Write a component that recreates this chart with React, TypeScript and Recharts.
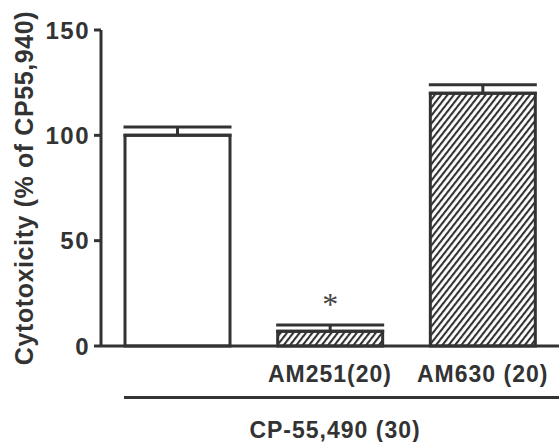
import { Bar, BarChart, Cell, ErrorBar, LabelList, XAxis, YAxis } from "recharts";

const categories = ["CP-55,940", "AM251(20)", "AM630 (20)"];
const tickLabels = ["", "AM251(20)", "AM630 (20)"];
const values = [100, 7, 120];
const errors = [4, 3, 4];
const marks = ["", "*", ""];
const yTicks = [0, 50, 100, 150];
const groupLabel = "CP-55,490 (30)";

const ink = "#333";
const font = "'Liberation Sans', Arial, sans-serif";

const data = categories.map((name, i) => ({
  name,
  value: values[i],
  err: [0, errors[i]],
  mark: marks[i],
}));

const fills = ["#fff", "url(#hatch)", "url(#hatch)"];

export default function App() {
  return (
    <div style={{ position: "relative", width: 559, height: 442, background: "#fff" }}>
      <style>{`body{margin:0}`}</style>
      <BarChart width={559} height={442} data={data} margin={{ top: 30, right: 0, bottom: 0, left: 0 }}>
        <defs>
          <pattern id="hatch" patternUnits="userSpaceOnUse" width={5} height={10} patternTransform="rotate(38)">
            <rect width={5} height={10} fill="#fff" />
            <line x1={1} y1={0} x2={1} y2={10} stroke={ink} strokeWidth={2.2} />
          </pattern>
        </defs>
        <XAxis
          dataKey="name"
          height={96}
          tickLine={false}
          axisLine={{ stroke: ink, strokeWidth: 3 }}
          tick={{ fill: ink, fontSize: 23, fontWeight: 700, fontFamily: font, letterSpacing: 1, style: { fontSize: 23, letterSpacing: 1 } }}
          tickFormatter={(_v, i) => tickLabels[i]}
          tickMargin={14}
          label={{ value: groupLabel, position: "insideBottom", offset: 4, dx: 5, fill: ink, fontWeight: 700, fontFamily: font, style: { fontSize: 23, letterSpacing: 1, fontWeight: 700, fontFamily: font } }}
        />
        <YAxis
          width={101}
          domain={[0, 150]}
          ticks={yTicks}
          interval={0}
          tickSize={7}
          tickLine={{ stroke: ink, strokeWidth: 3 }}
          axisLine={{ stroke: ink, strokeWidth: 3 }}
          tick={{ fill: ink, fontSize: 24, fontWeight: 700, fontFamily: font, style: { fontSize: 24, letterSpacing: 1.5 } }}
          tickMargin={4}
          label={{ value: "Cytotoxicity (% of CP55,940)", angle: -90, position: "insideLeft", offset: 24, fill: ink, style: { textAnchor: "middle", fontSize: 25, letterSpacing: 0.6, fontWeight: 700, fontFamily: font } }}
        />
        <Bar dataKey="value" barSize={105} stroke={ink} strokeWidth={3} isAnimationActive={false}>
          {data.map((d, i) => (
            <Cell key={d.name} fill={fills[i]} />
          ))}
          <ErrorBar dataKey="err" width={54} stroke={ink} strokeWidth={3} direction="y" />
          <LabelList dataKey="mark" position="top" offset={16} fill="#444" style={{ fontSize: 32, fontFamily: "'Liberation Serif', serif" }} />
        </Bar>
      </BarChart>
      <div style={{ position: "absolute", left: 124, top: 396, width: 435, height: 3, background: ink }} />
    </div>
  );
}
